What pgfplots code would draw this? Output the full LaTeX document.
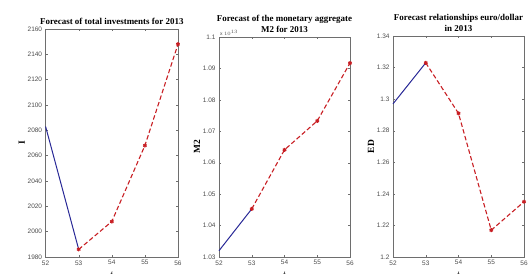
\documentclass[border=0pt]{standalone}
\usepackage{fontspec}
\setmainfont{Liberation Serif}
\newfontfamily\arial{Liberation Sans}
\usepackage{pgfplots}
\pgfplotsset{compat=1.18}
\definecolor{mblue}{RGB}{40,40,150}
\definecolor{mred}{RGB}{200,30,35}
\definecolor{framegray}{RGB}{110,110,110}
\pgfplotsset{
  mstyle/.style={
    scale only axis,
    xmin=52, xmax=56,
    xtick={52,53,54,55,56},
    tick align=inside,
    axis line style={framegray},
    every tick/.style={framegray},
    major tick length=2.5pt,
    tick label style={font=\arial\fontsize{6.5}{6.5}\selectfont, text=black!70},
    /pgf/number format/assume math mode=true,
    /pgf/number format/1000 sep={},
    title style={font=\fontsize{9}{10.5}\selectfont\bfseries, align=center, yshift=-5pt},
    ylabel style={font=\fontsize{9.5}{9.5}\selectfont\bfseries, yshift=-4pt},
    xlabel style={font=\fontsize{9}{9}\selectfont\bfseries\itshape},
    xlabel={$t$},
    clip=false,
  },
  blueline/.style={mblue, line width=1pt, mark=none},
  redline/.style={mred, line width=1.1pt, dashed, dash pattern=on 4.5pt off 2.5pt, mark=asterisk, mark size=2pt, mark options={solid, line width=1.1pt}},
}
\begin{document}
\begin{tikzpicture}
\useasboundingbox (0,0) rectangle (528bp,274bp);
% Panel 1
\begin{axis}[mstyle, at={(45.6bp,17bp)}, anchor=south west, width=132.4bp, height=228bp,
  ymin=1980, ymax=2160, ytick={1980,2000,...,2160},
  title={Forecast of total investments for 2013}, ylabel={I}]
\addplot[blueline] coordinates {(52,2083) (53,1986)};
\addplot[redline] coordinates {(53,1986) (54,2008) (55,2068) (56,2148)};
\end{axis}
% Panel 2
\begin{axis}[mstyle, at={(219bp,17bp)}, anchor=south west, width=131bp, height=220bp,
  ymin=1.03, ymax=1.1, ytick={1.03,1.04,...,1.1},
  yticklabels={1.03,1.04,1.05,1.06,1.07,1.08,1.09,1.1},
  title={Forecast of the monetary aggregate\\M2 for 2013}, ylabel={M2}]
\addplot[blueline] coordinates {(52,1.032) (53,1.0453)};
\addplot[redline] coordinates {(53,1.0453) (54,1.0641) (55,1.0733) (56,1.0917)};
\node[anchor=south west, font=\arial\fontsize{5}{5}\selectfont, text=black!70, inner sep=1pt] at (rel axis cs:0,1) {x $10^{13}$};
\end{axis}
% Panel 3
\begin{axis}[mstyle, at={(393bp,17bp)}, anchor=south west, width=131bp, height=221bp,
  ymin=1.2, ymax=1.34, ytick={1.2,1.22,...,1.34},
  yticklabels={1.2,1.22,1.24,1.26,1.28,1.3,1.32,1.34},
  title={Forecast relationships euro/dollar\\in 2013}, ylabel={ED}]
\addplot[blueline] coordinates {(52,1.297) (53,1.323)};
\addplot[redline] coordinates {(53,1.323) (54,1.291) (55,1.217) (56,1.235)};
\end{axis}
\end{tikzpicture}
\end{document}
